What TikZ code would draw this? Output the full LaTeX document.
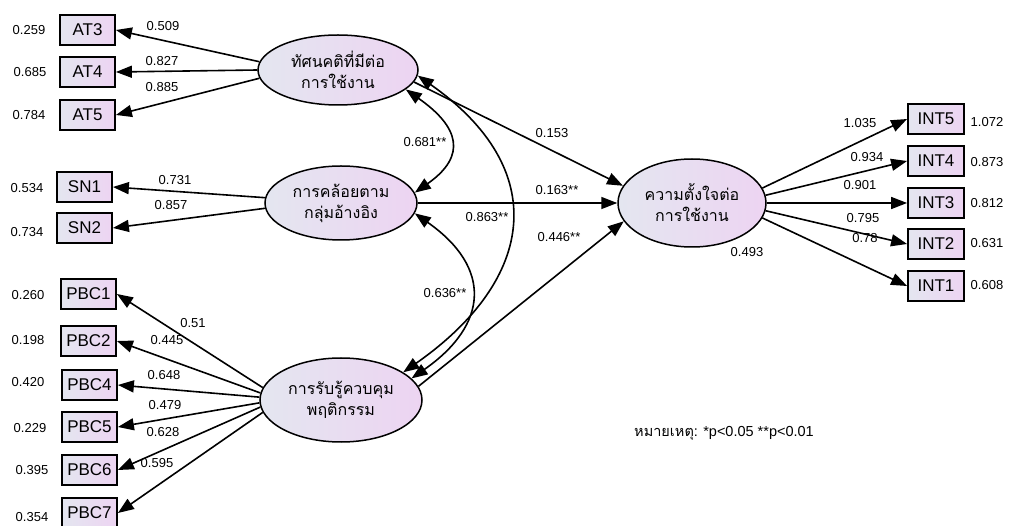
\documentclass[tikz,border=0pt]{standalone}
\usepackage{fontspec}
\setmainfont{Liberation Sans}
\newfontfamily\thai[Script=Thai]{Loma}
\usetikzlibrary{shapes.geometric,arrows.meta}

\definecolor{shadeL}{RGB}{228,230,240}
\definecolor{shadeR}{RGB}{237,212,242}

\tikzset{
  latent/.style={ellipse, draw, line width=1.5pt, left color=shadeL, right color=shadeR,
    inner sep=0pt, align=center, font=\thai\fontsize{16}{21}\selectfont},
  item/.style={rectangle, draw, line width=1.8pt, left color=shadeL, right color=shadeR,
    minimum width=55pt, minimum height=30pt, inner sep=0pt, font=\fontsize{17}{17}\selectfont},
  num/.style={inner sep=0pt, font=\fontsize{13}{13}\selectfont},
  path/.style={line width=1.6pt, -{Triangle[length=16pt,width=12pt]}},
  covar/.style={line width=1.6pt, {Triangle[length=16pt,width=12pt]}-{Triangle[length=16pt,width=12pt]}},
}

\begin{document}
\begin{tikzpicture}[x=1pt,y=1pt]
\useasboundingbox (0,0) rectangle (1012,525);
\clip (0,0) rectangle (1012,525);

% latent constructs
\node[latent, minimum width=160pt, minimum height=70pt] (AT)  at (338,455) {ทัศนคติที่มีต่อ\\การใช้งาน};
\node[latent, minimum width=152pt, minimum height=74pt] (SN)  at (341,322) {การคล้อยตาม\\กลุ่มอ้างอิง};
\node[latent, minimum width=162pt, minimum height=84pt] (PBC) at (341,125) {การรับรู้ควบคุม\\พฤติกรรม};
\node[latent, minimum width=148pt, minimum height=88pt] (INT) at (692,322) {ความตั้งใจต่อ\\การใช้งาน};

% indicators
\node[item] (AT3) at (87.5,495) {AT3};
\node[item] (AT4) at (87.5,453) {AT4};
\node[item] (AT5) at (87.5,410) {AT5};
\node[item] (SN1) at (84.5,338) {SN1};
\node[item] (SN2) at (84.5,297) {SN2};
\node[item] (PBC1) at (88.5,231) {PBC1};
\node[item] (PBC2) at (88.5,184) {PBC2};
\node[item] (PBC4) at (89.5,140) {PBC4};
\node[item] (PBC5) at (89.5,98) {PBC5};
\node[item] (PBC6) at (89.5,55) {PBC6};
\node[item] (PBC7) at (89.5,12) {PBC7};
\node[item, minimum width=56pt] (INT5) at (936,406) {INT5};
\node[item, minimum width=56pt] (INT4) at (936,364) {INT4};
\node[item, minimum width=56pt] (INT3) at (936,322) {INT3};
\node[item, minimum width=56pt] (INT2) at (936,281) {INT2};
\node[item, minimum width=56pt] (INT1) at (936,239) {INT1};

% loadings
\draw[path] (AT.174) -- (AT3.east);
\draw[path] (AT.180) -- (AT4.east);
\draw[path] (AT.186) -- (AT5.east);
\draw[path] (SN.176) -- (SN1.east);
\draw[path] (SN.184) -- (SN2.east);
\draw[path] (PBC.171.5) -- (PBC1.east);
\draw[path] (PBC.175) -- (PBC2.east);
\draw[path] (PBC.178.5) -- (PBC4.east);
\draw[path] (PBC.182) -- (PBC5.east);
\draw[path] (PBC.185.5) -- (PBC6.east);
\draw[path] (PBC.189) -- (PBC7.east);
\draw[path] (INT.12) -- (INT5.west);
\draw[path] (INT.6) -- (INT4.west);
\draw[path] (INT.0) -- (INT3.west);
\draw[path] (INT.-6) -- (INT2.west);
\draw[path] (INT.-12) -- (INT1.west);

% structural paths
\draw[path] (AT.-9) -- (INT.166);
\draw[path] (SN.east) -- (INT.west);
\draw[path] (PBC.10) -- (INT.-165);

% correlations between the exogenous constructs
\draw[covar] (AT.-16) to[out=-35,in=35,looseness=1.6] (SN.8);
\draw[covar] (SN.-8) to[out=-35,in=35,looseness=1.46] (PBC.17);
\draw[covar] (AT.-4) to[out=-35,in=35,looseness=1.4] (PBC.24);

% error variances
\node[num] (eAT3) at (29,495) {0.259};
\node[num] (eAT4) at (30,453) {0.685};
\node[num] (eAT5) at (29,410) {0.784};
\node[num] (eSN1) at (27,337) {0.534};
\node[num] (eSN2) at (27,293) {0.734};
\node[num] (ePBC1) at (28,230) {0.260};
\node[num] (ePBC2) at (28,185) {0.198};
\node[num] (ePBC4) at (28,143) {0.420};
\node[num] (ePBC5) at (30,97) {0.229};
\node[num] (ePBC6) at (32,55) {0.395};
\node[num] (ePBC7) at (32,8) {0.354};
\node[num] (eINT5) at (987,403) {1.072};
\node[num] (eINT4) at (987,363) {0.873};
\node[num] (eINT3) at (987,322) {0.812};
\node[num] (eINT2) at (987,282) {0.631};
\node[num] (eINT1) at (987,240) {0.608};

% loading estimates
\node[num] (wAT3) at (163,499) {0.509};
\node[num] (wAT4) at (162,464) {0.827};
\node[num] (wAT5) at (162,438) {0.885};
\node[num] (wSN1) at (175,345) {0.731};
\node[num] (wSN2) at (171,320) {0.857};
\node[num] (wPBC1) at (193,202) {0.51};
\node[num] (wPBC2) at (167,185) {0.445};
\node[num] (wPBC4) at (164,150) {0.648};
\node[num] (wPBC5) at (165,120) {0.479};
\node[num] (wPBC6) at (163,93) {0.628};
\node[num] (wPBC7) at (157,62) {0.595};
\node[num] (wINT5) at (860,402) {1.035};
\node[num] (wINT4) at (867,368) {0.934};
\node[num] (wINT3) at (860,340) {0.901};
\node[num] (wINT2) at (863,307) {0.795};
\node[num] (wINT1) at (865,287) {0.78};

% structural estimates and correlations
\node[num] (bAT)  at (552,392) {0.153};
\node[num] (bSN)  at (557,335) {0.163**};
\node[num] (bPBC) at (559,288) {0.446**};
\node[num] (rATSN)  at (425,383) {0.681**};
\node[num] (rSNPBC) at (445,232) {0.636**};
\node[num] (rATPBC) at (487,308) {0.863**};
\node[num] (r2INT)  at (747,273) {0.493};

% significance note
\node[num, font=\fontsize{14.5}{14.5}\selectfont] (note) at (724,92) {{\thai หมายเหตุ}: *p<0.05 **p<0.01};
\end{tikzpicture}
\end{document}
